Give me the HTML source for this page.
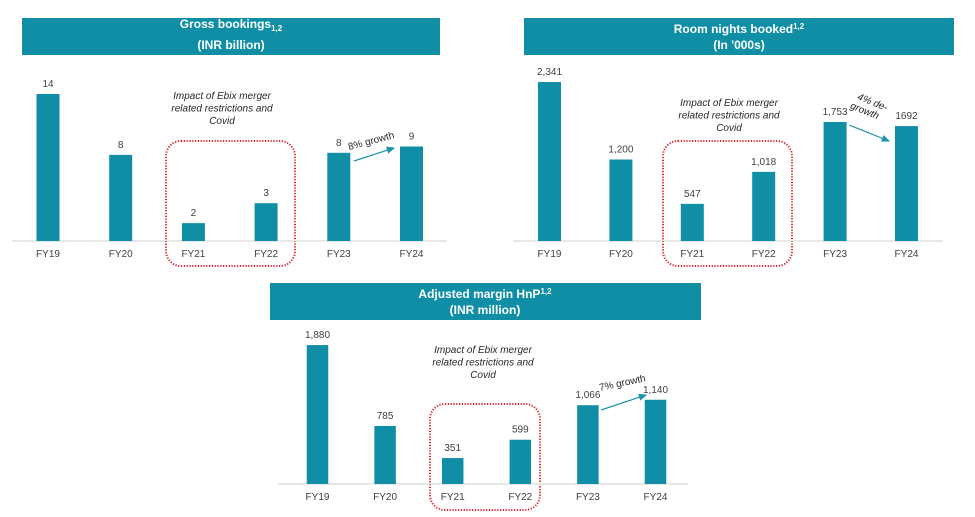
<!DOCTYPE html>
<html><head><meta charset="utf-8">
<style>
html,body{margin:0;padding:0;background:#fff;}
svg{display:block;font-family:"Liberation Sans",sans-serif;}
.hd{fill:#0f8ea6;}
.ht{fill:#fff;font-weight:bold;font-size:12px;text-anchor:middle;}
.vl{fill:#404040;font-size:10px;text-anchor:middle;}
.cl{fill:#404040;font-size:10px;text-anchor:middle;}
.an{fill:#262626;font-size:10px;font-style:italic;text-anchor:middle;}
.box{fill:none;stroke:#e0202a;stroke-width:2;stroke-dasharray:1.2 1.6;}
.ax{stroke:#d0d0d0;stroke-width:1;}
</style></head>
<body>
<svg id="c" width="975" height="517" viewBox="0 0 975 517">
<defs><marker id="ar" markerWidth="8" markerHeight="8" refX="6" refY="3" orient="auto"><path d="M0,0 L7,3 L0,6 Z" fill="#1a94aa"/></marker></defs>

<g>
<rect class="hd" x="22" y="18" width="418" height="37"/>
<text class="ht" x="231" y="28">Gross bookings<tspan font-size="8" dy="3">1,2</tspan></text>
<text class="ht" x="231" y="49">(INR billion)</text>
<text class="an" x="222" y="99"><tspan x="222">Impact of Ebix merger</tspan><tspan x="222" dy="12.5">related restrictions and</tspan><tspan x="222" dy="12.5">Covid</tspan></text>
<rect class="box" x="166" y="141" width="129" height="125" rx="15"/>
<line x1="354" y1="161" x2="394" y2="148" stroke="#1a94aa" stroke-width="1.2" marker-end="url(#ar)"/>
<text class="an" style="font-style:normal" x="372" y="144" transform="rotate(-15 372 144)">8% growth</text>
</g>

<g>
<rect class="hd" x="524" y="18" width="430" height="37"/>
<text class="ht" x="739" y="33">Room nights booked<tspan font-size="8" dy="-4">1,2</tspan></text>
<text class="ht" x="739" y="49">(In '000s)</text>
<text class="an" x="729" y="106"><tspan x="729">Impact of Ebix merger</tspan><tspan x="729" dy="12.5">related restrictions and</tspan><tspan x="729" dy="12.5">Covid</tspan></text>
<rect class="box" x="663" y="141" width="129" height="125" rx="15"/>
<line x1="849" y1="125" x2="889" y2="141" stroke="#1a94aa" stroke-width="1.2" marker-end="url(#ar)"/>
<text class="an" x="868" y="104" transform="rotate(22 868 108)"><tspan x="870">4% de-</tspan><tspan x="866" dy="11">growth</tspan></text>
</g>

<g>
<rect class="hd" x="270" y="283" width="431" height="37"/>
<text class="ht" x="485" y="298">Adjusted margin HnP<tspan font-size="8" dy="-4">1,2</tspan></text>
<text class="ht" x="485" y="314">(INR million)</text>
<text class="an" x="483" y="353"><tspan x="483">Impact of Ebix merger</tspan><tspan x="483" dy="12.5">related restrictions and</tspan><tspan x="483" dy="12.5">Covid</tspan></text>
<rect class="box" x="430" y="404" width="110" height="106" rx="15"/>
<line x1="601" y1="410" x2="646" y2="395" stroke="#1a94aa" stroke-width="1.2" marker-end="url(#ar)"/>
<text class="an" style="font-style:normal" x="623" y="386" transform="rotate(-12 623 386)">7% growth</text>
</g>
<g id="bars"></g>
</svg>
<script>
const categories = ["FY19","FY20","FY21","FY22","FY23","FY24"];
const grossValues = [14, 8.2, 1.7, 3.6, 8.4, 9.0];
const grossLabels = ["14","8","2","3","8","9"];
const roomValues = [2341, 1200, 547, 1018, 1753, 1692];
const roomLabels = ["2,341","1,200","547","1,018","1,753","1692"];
const marginValues = [1880, 785, 351, 599, 1066, 1140];
const marginLabels = ["1,880","785","351","599","1,066","1,140"];

const NS = "http://www.w3.org/2000/svg";
const root = document.getElementById("bars");
function mk(tag, attrs){const e=document.createElementNS(NS,tag);for(const k in attrs)e.setAttribute(k,attrs[k]);return e;}
function drawChart(prefix, values, labels, cfg){
  const y = v => cfg.base - v * cfg.scale;
  const x = i => cfg.x0 + i * cfg.step;
  const ax = mk("line",{x1:cfg.axL,x2:cfg.axR,y1:cfg.base,y2:cfg.base,class:"ax"});
  
  
  root.appendChild(ax);
  values.forEach((v,i)=>{
    const r = mk("rect",{x:x(i)-cfg.bw/2,y:y(v),width:cfg.bw,height:cfg.base-y(v),fill:"#0f8ea6"});
    
    
    root.appendChild(r);
    const t = mk("text",{x:x(i),y:y(v)-7,class:"vl"});
    t.textContent = labels[i];
    
    
    root.appendChild(t);
    const c = mk("text",{x:x(i),y:cfg.base+16,class:"cl"});
    c.textContent = categories[i];
    
    
    root.appendChild(c);
  });
}
drawChart("gb", grossValues, grossLabels, {base:241, scale:10.5, x0:48, step:72.7, bw:23, axL:12, axR:447});
drawChart("rn", roomValues, roomLabels, {base:241, scale:0.0679, x0:549.5, step:71.4, bw:23, axL:513, axR:943});
drawChart("am", marginValues, marginLabels, {base:484, scale:0.0739, x0:317.5, step:67.6, bw:21.5, axL:278, axR:688});
</script>
</body></html>
